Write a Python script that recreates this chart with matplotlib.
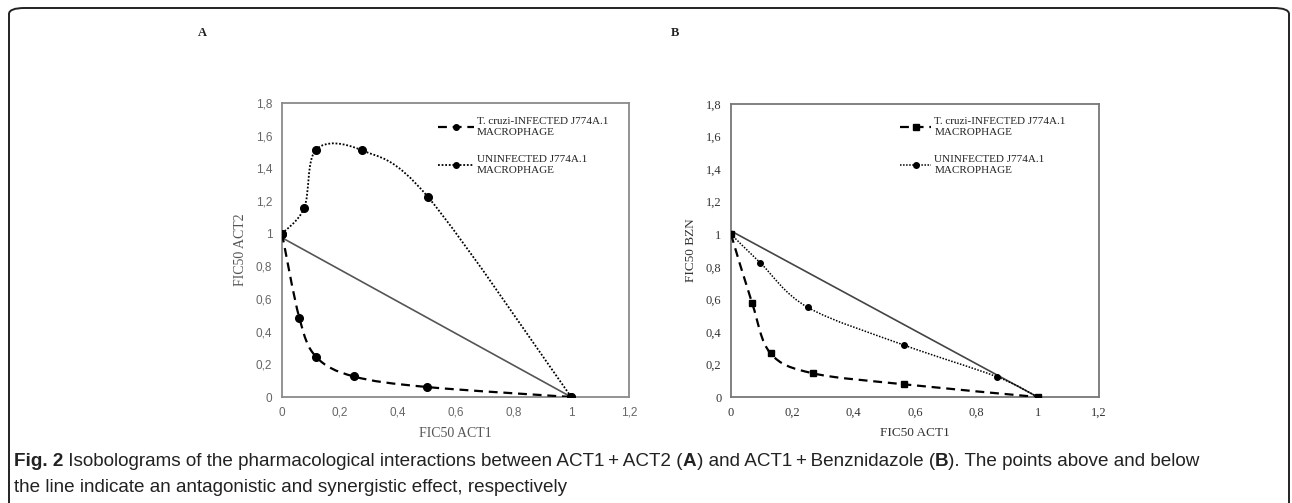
"""
Fig. 2: Isobolograms, ACT1 + ACT2 (A) and ACT1 + Benznidazole (B)
"""

import numpy as np
import matplotlib
matplotlib.use("Agg")
import matplotlib.pyplot as plt
from matplotlib.path import Path
from matplotlib.patches import PathPatch, FancyBboxPatch
from matplotlib.lines import Line2D

# ---- data ----
a_infected_x = [0.0, 0.06, 0.118, 0.248, 0.502, 1.0]
a_infected_y = [1.0, 0.484, 0.246, 0.126, 0.061, 0.0]
a_uninfected_x = [0.0, 0.077, 0.118, 0.277, 0.505, 1.0]
a_uninfected_y = [1.0, 1.159, 1.515, 1.51, 1.224, 0.0]
a_additive_x = [0.0, 1.0]
a_additive_y = [0.975, 0.0]

b_infected_x = [0.0, 0.069, 0.129, 0.266, 0.564, 1.0]
b_infected_y = [1.0, 0.576, 0.268, 0.146, 0.078, 0.0]
b_uninfected_x = [0.0, 0.095, 0.25, 0.564, 0.866, 1.0]
b_uninfected_y = [1.0, 0.825, 0.551, 0.319, 0.125, 0.0]
b_additive_x = [0.0, 1.0]
b_additive_y = [1.02, 0.0]

x_ticks = [0, 0.2, 0.4, 0.6, 0.8, 1, 1.2]
y_ticks = [0, 0.2, 0.4, 0.6, 0.8, 1, 1.2, 1.4, 1.6, 1.8]
infected_label = "T. cruzi-INFECTED J774A.1\nMACROPHAGE"
uninfected_label = "UNINFECTED J774A.1\nMACROPHAGE"

W, H = 1292, 503
SERIF = ["Liberation Serif", "DejaVu Serif"]
SANS = ["Liberation Sans", "DejaVu Sans"]


def comma(v):
    return f"{v:g}".replace(".", ",")


def smooth_path(xs, ys):
    # Excel-style smoothed line: Catmull-Rom segments as cubic Beziers
    pts = np.column_stack([xs, ys]).astype(float)
    n = len(pts)
    verts = [pts[0]]
    codes = [Path.MOVETO]
    for i in range(n - 1):
        p0 = pts[max(i - 1, 0)]
        p1 = pts[i]
        p2 = pts[i + 1]
        p3 = pts[min(i + 2, n - 1)]
        verts += [p1 + (p2 - p0) / 6.0, p2 - (p3 - p1) / 6.0, p2]
        codes += [Path.CURVE4] * 3
    return Path(verts, codes)


def draw_series(ax, xs, ys, ls, lw, marker, ms):
    ax.add_patch(PathPatch(smooth_path(xs, ys), fill=False, edgecolor="black",
                           linewidth=lw, linestyle=ls, capstyle="butt", zorder=3))
    ax.plot(xs, ys, linestyle="none", marker=marker, markersize=ms,
            color="black", zorder=4)


def style_axes(ax, tick_font, tick_color, tick_size, spine_color):
    ax.set_xlim(0, 1.2)
    ax.set_ylim(0, 1.8)
    ax.set_xticks(x_ticks)
    ax.set_yticks(y_ticks)
    ax.set_xticklabels([comma(t) for t in x_ticks])
    ax.set_yticklabels([comma(t) for t in y_ticks])
    ax.tick_params(length=0, pad=7, labelsize=tick_size, labelcolor=tick_color)
    for lab in ax.get_xticklabels() + ax.get_yticklabels():
        lab.set_family(tick_font)
    for sp in ax.spines.values():
        sp.set_color(spine_color)
        sp.set_linewidth(1.3)


def add_legend(ax, handles, x_px, y_px, hl):
    leg = ax.legend(handles, [infected_label, uninfected_label], loc="upper left",
                    bbox_to_anchor=(x_px / W, 1 - y_px / H),
                    bbox_transform=fig.transFigure, frameon=False,
                    handlelength=hl, handletextpad=0.3, labelspacing=1.55,
                    borderaxespad=0, borderpad=0,
                    prop={"family": SERIF, "size": 8})
    for t in leg.get_texts():
        t.set_linespacing(1.35)
        t.set_color("#222222")
    return leg


fig = plt.figure(figsize=(W / 100, H / 100), dpi=100)

# rounded outer frame (bottom runs off the page)
frame = FancyBboxPatch((9 / W, -0.3), (1289 - 9) / W, 1 - 8 / H + 0.3,
                       boxstyle="round,pad=0,rounding_size=0.012",
                       transform=fig.transFigure, fill=False,
                       edgecolor="#222222", linewidth=1.4, clip_on=False)
fig.patches.append(frame)

# ---- panel A ----
ax_a = fig.add_axes([282 / W, 1 - 397 / H, 347 / W, 294 / H])
style_axes(ax_a, SANS, "#666666", 8.5, "#8a8a8a")
ax_a.plot(a_additive_x, a_additive_y, color="#555555", lw=1.2, zorder=2)
draw_series(ax_a, a_infected_x, a_infected_y, (0, (4, 2.6)), 1.6, "o", 5.5)
draw_series(ax_a, a_uninfected_x, a_uninfected_y, (0, (1, 1)), 1.3, "o", 5.5)
ax_a.set_xlabel("FIC50 ACT1", family=SERIF, fontsize=10, color="#555555", labelpad=6)
ax_a.set_ylabel("FIC50 ACT2", family=SERIF, fontsize=10, color="#555555", labelpad=6)
add_legend(ax_a, [
    Line2D([], [], color="black", ls=(0, (4, 2.6)), lw=1.6, marker="o", ms=4),
    Line2D([], [], color="black", ls=(0, (1, 1)), lw=1.3, marker="o", ms=4),
], 438, 117, 3.2)

# ---- panel B ----
ax_b = fig.add_axes([731 / W, 1 - 397 / H, 368 / W, 293 / H])
style_axes(ax_b, SERIF, "#333333", 9, "#777777")
ax_b.plot(b_additive_x, b_additive_y, color="#444444", lw=1.2, zorder=2)
draw_series(ax_b, b_infected_x, b_infected_y, (0, (4, 2.6)), 1.6, "s", 5)
draw_series(ax_b, b_uninfected_x, b_uninfected_y, (0, (1, 1)), 1.1, "o", 4)
ax_b.set_xlabel("FIC50 ACT1", family=SERIF, fontsize=9.5, color="#333333", labelpad=6)
ax_b.set_ylabel("FIC50 BZN", family=SERIF, fontsize=9.5, color="#333333", labelpad=6)
add_legend(ax_b, [
    Line2D([], [], color="black", ls=(0, (4, 2.6)), lw=1.6, marker="s", ms=4),
    Line2D([], [], color="black", ls=(0, (1, 1)), lw=1.1, marker="o", ms=4),
], 900, 117, 2.8)

# panel letters
fig.text(202 / W, 1 - 33 / H, "A", family=SERIF, weight="bold", fontsize=9,
         ha="center", va="center", color="#222222")
fig.text(675 / W, 1 - 33 / H, "B", family=SERIF, weight="bold", fontsize=9,
         ha="center", va="center", color="#222222")

# ---- caption, with bold pieces ----
renderer = fig.canvas.get_renderer()
cap_lines = [
    [("Fig. 2", "bold"),
     (" Isobolograms of the pharmacological interactions between ACT1\u2009+\u2009ACT2 (", "normal"),
     ("A", "bold"), (") and ACT1\u2009+\u2009Benznidazole (", "normal"), ("B", "bold"),
     ("). The points above and below", "normal")],
    [("the line indicate an antagonistic and synergistic effect, respectively", "normal")],
]
cap_y = [462, 487]
for segs, yy in zip(cap_lines, cap_y):
    x = 14
    for s, wt in segs:
        t = fig.text(x / W, 1 - yy / H, s, family=SANS, weight=wt, fontsize=13.6,
                     ha="left", va="center", color="#222222")
        x += t.get_window_extent(renderer).width

fig.savefig("out.png", dpi=100)
